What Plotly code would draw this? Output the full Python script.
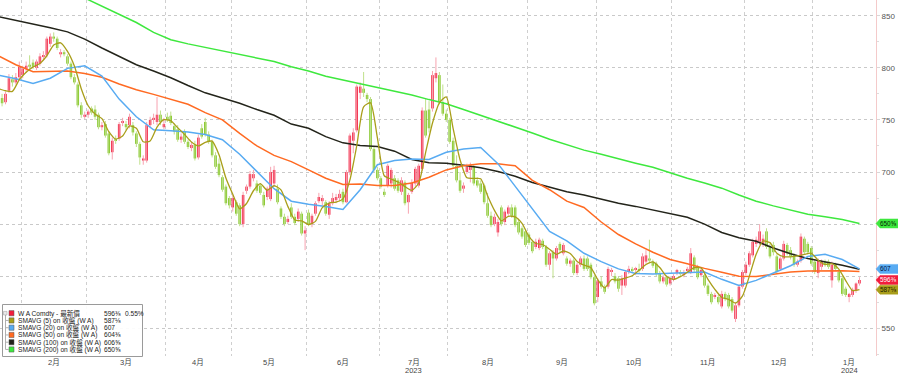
import pandas as pd
import plotly.graph_objects as go

# ---------------- data ----------------
HOLIDAYS = ["2023-01-16", "2023-02-20", "2023-04-07", "2023-05-29", "2023-06-19",
            "2023-07-04", "2023-09-04", "2023-11-23", "2023-12-25", "2024-01-01", "2024-01-15"]
SESSIONS = pd.bdate_range("2023-01-23", "2024-01-31", freq="C", holidays=HOLIDAYS)

MONTH_LABELS = ["2月", "3月", "4月", "5月", "6月", "7月", "8月", "9月", "10月", "11月", "12月", "1月"]
YEAR_LABELS = {"7月": "2023", "1月": "2024"}
Y_TICKS = [550, 600, 650, 700, 750, 800, 850]
Y_TICK_TEXT = ["550", "", "", "700", "750", "800", "850"]   # 600 / 650 sit under the price tags

open_ = [778, 771, 767, 778, 789, 786, 791,
         793, 799, 803, 805, 800, 804, 811, 812, 823, 830, 828, 813, 815, 811, 804, 791, 784, 764, 753,
         755, 761, 760, 755, 743, 746, 737, 719, 731, 732, 747, 746, 745, 745, 737, 727, 711, 711, 745, 750, 748, 755, 743,
         753, 754, 744, 741, 731, 739, 729, 723, 726, 714, 742, 748, 736, 729, 716, 708, 695, 686, 675,
         666, 671, 668, 650, 682, 686, 694, 689, 687, 678, 676, 674, 689, 684, 665, 657, 652, 666, 657, 655, 660, 641,
         661, 650, 660, 672, 672, 671, 659, 670, 673, 675, 681, 671, 700, 730, 740, 776, 780, 774, 770, 722, 702,
         694, 681, 687, 689, 694, 692, 681, 690, 671, 681, 689, 687, 703, 759, 760, 761, 790, 793, 767, 756,
         750, 730, 706, 692, 684, 700, 702, 705, 692, 689, 687, 670, 658, 650, 642, 666, 652, 660, 666, 666, 652, 646, 643,
         640, 633, 628, 627, 634, 628, 611, 623, 617, 631, 622, 617, 612, 615, 603, 611, 617, 617, 611, 599,
         580, 595, 590, 590, 604, 600, 598, 591, 591, 604, 607, 606, 606, 607, 614, 617, 614, 612, 603, 595, 599, 593,
         597, 603, 604, 601, 605, 604, 618, 609, 601, 601, 591, 583, 580, 580, 571, 583, 582, 578, 559, 572, 590,
         603, 611, 620, 631, 633, 631, 643, 628, 630, 619, 607, 617, 630, 625, 620, 611, 615, 636, 631, 627,
         614, 603, 609, 614, 614, 596, 611, 604, 598, 588, 580, 582, 586, 593]

high = [782, 775, 777, 794, 793, 795, 806,
        802, 806, 812, 808, 808, 814, 816, 830, 833, 834, 830, 818, 817, 813, 806, 794, 786, 767, 758,
        760, 763, 764, 757, 748, 749, 739, 733, 735, 748, 752, 749, 756, 748, 739, 729, 716, 748, 753, 756, 772, 759, 752,
        757, 758, 747, 745, 737, 741, 731, 729, 730, 736, 746, 752, 739, 731, 719, 713, 697, 688, 677,
        678, 673, 670, 681, 688, 701, 702, 692, 689, 681, 686, 705, 706, 688, 667, 660, 658, 670, 660, 665, 662, 648,
        664, 660, 672, 680, 678, 673, 672, 680, 679, 683, 684, 702, 737, 742, 784, 786, 796, 776, 772, 725, 705,
        696, 684, 708, 704, 697, 694, 695, 692, 680, 693, 705, 708, 762, 770, 768, 797, 810, 796, 784, 760,
        752, 733, 716, 700, 690, 708, 709, 707, 695, 692, 689, 680, 662, 660, 655, 668, 664, 668, 669, 668, 654, 648, 645,
        642, 635, 636, 637, 636, 630, 624, 625, 629, 633, 632, 619, 617, 617, 613, 619, 620, 619, 613, 601,
        598, 600, 592, 609, 608, 603, 600, 601, 606, 610, 609, 609, 612, 622, 625, 635, 616, 614, 605, 601, 601, 600,
        602, 607, 606, 606, 609, 627, 620, 611, 608, 603, 593, 585, 584, 582, 586, 585, 584, 580, 575, 592, 606,
        614, 624, 636, 638, 650, 640, 646, 631, 633, 621, 619, 634, 632, 628, 622, 616, 641, 638, 633, 629,
        616, 617, 616, 616, 616, 614, 613, 606, 600, 590, 584, 589, 594, 599]

low = [768, 763, 765, 776, 782, 784, 789,
       790, 795, 798, 799, 798, 802, 808, 810, 820, 825, 817, 810, 811, 802, 789, 784, 762, 752, 751,
       752, 755, 750, 741, 740, 733, 716, 712, 727, 730, 744, 740, 742, 735, 724, 707, 707, 709, 742, 746, 745, 745, 741,
       748, 745, 736, 729, 728, 727, 722, 720, 711, 712, 732, 734, 727, 714, 703, 695, 681, 668, 665,
       662, 658, 648, 647, 679, 684, 691, 680, 678, 666, 673, 672, 686, 669, 655, 648, 650, 655, 649, 652, 639, 625,
       648, 647, 658, 670, 668, 658, 655, 668, 670, 672, 669, 670, 697, 718, 738, 770, 772, 767, 720, 700, 692,
       684, 676, 685, 685, 682, 680, 678, 668, 660, 679, 686, 685, 701, 733, 738, 758, 786, 765, 754, 748,
       727, 704, 690, 680, 680, 698, 690, 687, 685, 679, 669, 656, 647, 648, 638, 648, 649, 658, 656, 647, 640, 636, 628,
       630, 622, 626, 625, 626, 609, 606, 598, 615, 623, 620, 610, 609, 601, 601, 609, 605, 605, 597, 572,
       575, 588, 583, 588, 600, 593, 585, 582, 589, 602, 603, 601, 603, 605, 612, 613, 608, 600, 593, 593, 590, 591,
       595, 601, 600, 599, 603, 602, 604, 597, 599, 589, 581, 573, 578, 573, 569, 576, 569, 565, 556, 570, 588,
       601, 609, 618, 628, 630, 628, 626, 617, 620, 602, 605, 615, 620, 616, 609, 609, 613, 621, 621, 610,
       602, 598, 606, 609, 607, 589, 605, 594, 581, 580, 575, 580, 584, 591]

close = [770, 766, 775, 790, 786, 791, 801,
         799, 802, 801, 801, 806, 811, 812, 828, 830, 828, 819, 815, 813, 804, 791, 786, 764, 755, 755,
         758, 757, 753, 743, 745, 735, 718, 730, 730, 746, 749, 743, 753, 738, 727, 714, 713, 745, 750, 752, 755, 748, 746,
         750, 747, 739, 731, 734, 729, 724, 726, 713, 733, 734, 736, 729, 716, 705, 697, 683, 670, 668,
         675, 660, 650, 678, 686, 698, 698, 682, 680, 668, 684, 700, 702, 671, 657, 650, 655, 657, 651, 662, 641, 644,
         650, 658, 670, 676, 675, 660, 670, 675, 676, 679, 671, 700, 735, 738, 782, 782, 776, 770, 722, 702, 694,
         686, 678, 706, 702, 684, 682, 692, 670, 678, 690, 703, 706, 759, 735, 742, 793, 795, 767, 756, 750,
         729, 706, 692, 682, 687, 705, 706, 689, 687, 681, 671, 658, 649, 657, 652, 650, 662, 666, 658, 649, 642, 638, 630,
         632, 624, 633, 635, 628, 611, 622, 617, 627, 625, 630, 612, 615, 603, 611, 617, 607, 607, 599, 574,
         596, 590, 585, 607, 606, 595, 588, 598, 604, 607, 605, 607, 605, 619, 620, 615, 610, 602, 595, 599, 592, 598,
         600, 606, 602, 604, 607, 622, 606, 599, 606, 591, 583, 575, 582, 575, 583, 578, 571, 567, 572, 590, 604,
         611, 622, 633, 635, 643, 636, 628, 619, 623, 604, 617, 631, 622, 619, 611, 614, 638, 623, 623, 612,
         604, 615, 614, 611, 609, 611, 607, 596, 583, 582, 583, 587, 593, 596.375]

# moving averages (SMA5 every 2nd session, others every 5th session)
sma5 = [780, 778, 777.4, 788.6, 795.8, 800.8, 804.2, 811.6, 821.8, 824,
        815.8, 801.8, 780, 763.6, 755.6, 751.2, 738.8, 731.6, 734.6, 744.2,
        742, 729, 729.8, 743, 750.2, 749.2, 742.6, 736, 728.8, 725,
        728.4, 729.6, 716.6, 694.2, 678.6, 664.6, 669.8, 682, 688.8, 682.4,
        686.8, 682.8, 667, 654, 653.2, 649.6, 652.6, 665.8, 670.2, 671.2,
        674.2, 692.2, 725.2, 762.6, 766.4, 732.8, 696.4, 693.2, 690.4, 686,
        682.4, 689.4, 718.6, 747, 766.4, 772.2, 741.6, 711.8, 694.4, 693.8,
        693.6, 677.2, 663.2, 653.2, 657.4, 657, 650.6, 638.2, 631.4, 630.4,
        625.8, 621, 624.2, 621.8, 614.2, 610.6, 608.2, 596.6, 588.8, 596.8,
        596.2, 598.2, 600.4, 605.6, 611.2, 613.8, 608.4, 599.6, 596.8, 599.6,
        603.8, 608.2, 608, 597, 587.4, 579.6, 577.8, 574.2, 580.8, 599.8,
        621, 633.8, 632.2, 622, 618.8, 618.6, 619.4, 621, 622, 615.4,
        611.2, 612, 606.8, 595.8, 586.2, 587.1]
sma20 = [793, 789.5, 785, 790, 799.5, 802, 792, 770, 753, 740.5,
         739.6, 738.5, 736, 731, 717, 700, 684, 672, 669, 667,
         664, 683, 707, 711, 712.5, 712, 719, 722, 723.5, 708,
         686, 665, 643, 634, 622, 614, 607, 602.5, 602, 602.8,
         603.3, 604, 597, 591, 596, 603, 610, 619, 621, 616, 607]
sma50 = [811.5, 803, 796.3, 796.3, 797, 794.5, 791, 784.5, 779, 774.5,
         769.5, 765, 757, 750, 737, 725, 716, 710, 702, 694,
         688, 688.5, 687, 687, 689.5, 695, 702, 706, 708, 708,
         706, 692, 683, 672, 666, 652, 640, 631, 623, 616,
         612, 607.5, 603.8, 600, 599.8, 602, 604, 605, 605.3, 605.3, 604.4]
sma100 = [849, 845.5, 842.7, 838.5, 834.5, 827.5, 819, 811, 803, 797,
          790.5, 783, 776, 771, 766, 760, 754.5, 746, 742, 734,
          728, 725.5, 724.5, 720, 712, 709, 708.4, 706.5, 704, 700.5,
          696, 690, 685.3, 681, 678, 674, 670, 667, 663.5, 660,
          656.5, 650, 642, 637, 633.5, 627, 621.5, 617, 614, 610.5, 606.6]
sma200 = [867, 859, 851, 843.5, 834, 827, 823, 819.5, 816, 812.5,
          809.5, 806, 801, 797, 792, 788.5, 785, 781.5, 778, 774,
          769.5, 765.5, 760, 754.5, 749, 743, 737.5, 731.5, 726, 721,
          717, 712.5, 708.5, 704.5, 699, 694, 689.5, 684.5, 678, 672,
          667.5, 663.5, 659.5, 657, 654.5, 650.6]

LEGEND_NAMES = ["W A Comdty - 最新價", "SMAVG (5) on 收盤 (W A)", "SMAVG (20) on 收盤 (W A)",
                "SMAVG (50) on 收盤 (W A)", "SMAVG (100) on 收盤 (W A)", "SMAVG (200) on 收盤 (W A)"]
LEGEND_VALUES = ["596⅜", "587⅛", "607", "604⅜", "606⅝", "650⅝"]
LAST_CHANGE = "0.55%"

# ---------------- styling ----------------
N = len(close)
assert len(open_) == N == len(high) == len(low) == 251
assert len(sma5) == len(range(0, N, 2))
assert len(sma20) == len(sma50) == len(sma100) == len(range(0, N, 5))
assert len(sma200) == len(range(25, N, 5))

RED, GREEN = "#f21c3c", "#7cc31a"
RED_W, GREEN_W = "#f7a3b0", "#bfe08a"
C5, C20, C50, C100, C200 = "#a99e1a", "#58abf2", "#ff6a22", "#23241a", "#3ee83e"
FONT = "Liberation Sans, Noto Sans CJK TC, sans-serif"

PLOT_W, PLOT_H = 876, 356
X0, X1 = 0.4, 254.8
Y0, Y1 = 523.4, 865.1

X = list(range(N))
fig = go.Figure()

up = [i for i in X if close[i] >= open_[i]]
dn = [i for i in X if close[i] < open_[i]]

# pale wicks
for sel, col in ((up, RED_W), (dn, GREEN_W)):
    wx, wy = [], []
    for i in sel:
        wx += [i, i, None]
        wy += [low[i], high[i], None]
    fig.add_trace(go.Scatter(x=wx, y=wy, mode="lines", line=dict(color=col, width=1),
                             hoverinfo="skip", showlegend=False))

# candle bodies
for sel, col in ((up, RED), (dn, GREEN)):
    body = [close[i] - open_[i] for i in sel]
    body = [b if abs(b) >= 0.8 else 0.8 for b in body]
    fig.add_trace(go.Bar(x=sel, base=[open_[i] for i in sel], y=body, width=0.72,
                         marker=dict(color=col, line=dict(width=0)), hoverinfo="skip", showlegend=False))

def add_line(xs, ys, color, width=1.5, shape="linear"):
    fig.add_trace(go.Scatter(x=xs, y=ys, mode="lines",
                             line=dict(color=color, width=width, shape=shape, smoothing=0.6),
                             hoverinfo="skip", showlegend=False))

add_line(list(range(25, N, 5)), sma200, C200)
add_line(list(range(0, N, 5)), sma100, C100)
add_line(list(range(0, N, 5)), sma50, C50)
add_line(list(range(0, N, 5)), sma20, C20)
add_line(list(range(0, N, 2)), sma5, C5, 1.3, "spline")

# month ticks / boundaries
pos = pd.Series(range(len(SESSIONS)), index=SESSIONS)
grp = pos.groupby([SESSIONS.year, SESSIONS.month])
firsts = grp.min().tolist()[1:]
lasts = grp.max().tolist()[1:]
mids = [(a + b) / 2 for a, b in zip(firsts, lasts)]
bounds = [a - 0.5 for a in firsts]

fig.update_layout(
    width=898, height=375, margin=dict(l=0, r=22, t=0, b=19),
    paper_bgcolor="white", plot_bgcolor="white", showlegend=False, barmode="overlay",
    font=dict(family=FONT, size=8, color="#444"),
)
fig.update_xaxes(
    range=[X0, X1], showticklabels=False, showgrid=False, zeroline=False,
    showline=False, ticks="", rangeslider=dict(visible=False),
    minor=dict(tickvals=bounds, showgrid=True, gridcolor="#cfcfcf", griddash="dot", gridwidth=1, ticks=""),
)
fig.update_yaxes(
    side="right", range=[Y0, Y1], tickvals=Y_TICKS, ticktext=Y_TICK_TEXT,
    showgrid=True, gridcolor="#c9c9c9", griddash="dot", gridwidth=1, zeroline=False,
    showline=True, linecolor="#f4caca", linewidth=1,
    ticks="outside", ticklen=3, tickcolor="#d8d8d8",
    tickfont=dict(size=8, color="#555", family=FONT),
    minor=dict(dtick=25, ticks="outside", ticklen=2, tickcolor="#dddddd", showgrid=False),
)

def px(x):
    return x / PLOT_W

def py(y):
    return (PLOT_H - y) / PLOT_H

# month / year labels
for m, lab in zip(mids, MONTH_LABELS):
    fig.add_annotation(xref="x", yref="paper", x=m, y=py(362), text=lab, showarrow=False,
                       xanchor="center", yanchor="middle", font=dict(size=7.5, color="#444", family=FONT))
    if lab in YEAR_LABELS:
        fig.add_annotation(xref="x", yref="paper", x=m, y=py(370.5), text=YEAR_LABELS[lab], showarrow=False,
                           xanchor="center", yanchor="middle", font=dict(size=7.5, color="#444", family=FONT))

# right-side price tags
tags = [(sma200[-1], C200, LEGEND_VALUES[5], "#002200"),
        (sma20[-1], C20, LEGEND_VALUES[2], "#001040"),
        (close[-1], RED, LEGEND_VALUES[0], "#ffffff"),
        (sma5[-1], C5, LEGEND_VALUES[1], "#1a1a00")]
for val, col, txt, tcol in tags:
    fig.add_shape(type="path", xref="paper", yref="y", xsizemode="pixel", ysizemode="pixel",
                  xanchor=1, yanchor=val, path="M 0,0 L 4,4.5 L 22,4.5 L 22,-4.5 L 4,-4.5 Z",
                  fillcolor=col, line=dict(color=col, width=0.5), layer="above")
    fig.add_annotation(xref="paper", yref="y", x=1, y=val, xshift=3, xanchor="left", yanchor="middle",
                       text=txt, showarrow=False, borderpad=0, font=dict(size=6.4, color=tcol, family=FONT))

# legend box (drawn by hand)
fig.add_shape(type="rect", xref="paper", yref="paper", x0=px(2.5), x1=px(142.5), y0=py(356.5), y1=py(304.5),
              fillcolor="rgba(255,255,255,0.92)", line=dict(color="#9a9a9a", width=1), layer="above")
sw_colors = [RED, C5, C20, C50, C100, C200]
rows_y = [313.2 + 7.25 * k for k in range(6)]
fig.add_shape(type="line", xref="paper", yref="paper", x0=px(5.5), x1=px(5.5), y0=py(314.5), y1=py(rows_y[-1]),
              line=dict(color="#b0b0b0", width=1), layer="above")
for k, (ry, col, name, val) in enumerate(zip(rows_y, sw_colors, LEGEND_NAMES, LEGEND_VALUES)):
    if k > 0:
        fig.add_shape(type="line", xref="paper", yref="paper", x0=px(5.5), x1=px(8.5), y0=py(ry), y1=py(ry),
                      line=dict(color="#b0b0b0", width=1), layer="above")
    fig.add_shape(type="rect", xref="paper", yref="paper", x0=px(9), x1=px(14), y0=py(ry + 2.6), y1=py(ry - 2.6),
                  fillcolor=col, line=dict(color="#555", width=0.5), layer="above")
    fig.add_annotation(xref="paper", yref="paper", x=px(16), y=py(ry), xanchor="left", yanchor="middle",
                       text=name, showarrow=False, font=dict(size=6.6, color="#222", family=FONT))
    fig.add_annotation(xref="paper", yref="paper", x=px(102), y=py(ry), xanchor="left", yanchor="middle",
                       text=val, showarrow=False, font=dict(size=6.6, color="#222", family=FONT))
fig.add_shape(type="rect", xref="paper", yref="paper", x0=px(3.5), x1=px(7), y0=py(rows_y[0] + 1.8),
              y1=py(rows_y[0] - 1.8), fillcolor="#e8e8e8", line=dict(color="#999", width=0.5), layer="above")
fig.add_annotation(xref="paper", yref="paper", x=px(123), y=py(rows_y[0]), xanchor="left", yanchor="middle",
                   text=LAST_CHANGE, showarrow=False, font=dict(size=6.6, color="#222", family=FONT))

fig.write_html("out.html", config={"displayModeBar": False},
               post_script="document.body.style.margin='0';document.body.style.overflow='hidden';")
